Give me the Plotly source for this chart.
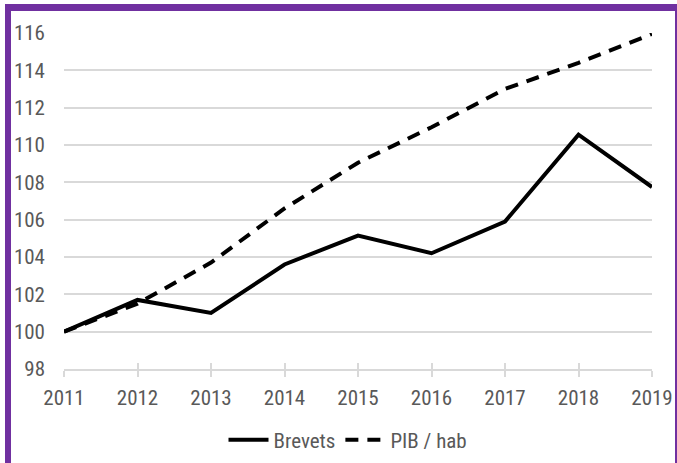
import plotly.graph_objects as go

years = [2011, 2012, 2013, 2014, 2015, 2016, 2017, 2018, 2019]
brevets = [100.0, 101.7, 101.0, 103.6, 105.15, 104.2, 105.9, 110.55, 107.75]
pib_hab = [100.0, 101.5, 103.7, 106.6, 109.05, 110.95, 113.0, 114.4, 115.95]
y_ticks = [98, 100, 102, 104, 106, 108, 110, 112, 114, 116]

W, H = 677, 463
L, R, T, B = 64, 25, 33, 94
pw, ph = W - L - R, H - T - B

FONT = "Roboto Condensed, Liberation Sans Narrow, sans-serif"
GREY = "#595959"
FS = 21

fig = go.Figure()
fig.add_trace(go.Scatter(x=years, y=brevets, name="Brevets", mode="lines",
                         line=dict(color="black", width=4)))
fig.add_trace(go.Scatter(x=years, y=pib_hab, name="PIB / hab", mode="lines",
                         line=dict(color="black", width=4, dash="13px,9px")))


def px_x(p):
    return (p - L) / pw


def px_y(p):
    return (H - B - p) / ph


purple = "#7030a0"
shapes = [
    dict(type="rect", xref="paper", yref="paper", x0=px_x(5), x1=px_x(677), y0=px_y(11), y1=px_y(4),
         fillcolor=purple, line=dict(width=0), layer="above"),
    dict(type="rect", xref="paper", yref="paper", x0=px_x(5), x1=px_x(11), y0=px_y(463), y1=px_y(4),
         fillcolor=purple, line=dict(width=0), layer="above"),
    dict(type="rect", xref="paper", yref="paper", x0=px_x(675), x1=px_x(677), y0=px_y(463), y1=px_y(4),
         fillcolor=purple, line=dict(width=0), layer="above"),
]

fig.update_layout(
    width=W, height=H, autosize=False,
    margin=dict(l=L, r=R, t=T, b=B, autoexpand=False),
    paper_bgcolor="white", plot_bgcolor="white",
    font=dict(family=FONT, size=FS, color=GREY),
    showlegend=True,
    legend=dict(orientation="h", xref="container", yref="container",
                x=348 / W, xanchor="center", y=1 - 440 / H, yanchor="middle",
                font=dict(family=FONT, size=FS, color=GREY), itemwidth=40,
                bgcolor="rgba(0,0,0,0)"),
    xaxis=dict(range=[2011, 2019], tickmode="array", tickvals=years,
               ticktext=[str(y) for y in years], showgrid=False, zeroline=False,
               showline=True, linecolor="#d9d9d9", linewidth=1.5, automargin=False,
               ticks="outside", ticklen=6, tickcolor="#d9d9d9", tickwidth=1.5,
               ticklabelstandoff=3,
               tickfont=dict(family=FONT, size=FS, color=GREY)),
    xaxis2=dict(range=[2011, 2019], overlaying="x", tickmode="array", tickvals=years,
                showticklabels=False, showgrid=False, zeroline=False, showline=False,
                ticks="inside", ticklen=6, tickcolor="#d9d9d9", tickwidth=1.5,
                side="bottom", anchor="y", automargin=False),
    yaxis=dict(range=[98, 116], tickmode="array", tickvals=y_ticks,
               showgrid=True, gridcolor="#d9d9d9", gridwidth=1.5, zeroline=False,
               showline=False, ticks="", ticklabelstandoff=18, automargin=False,
               tickfont=dict(family=FONT, size=FS, color=GREY)),
    shapes=shapes,
)
fig.add_trace(go.Scatter(x=[2011], y=[98], xaxis="x2", mode="markers",
                         marker=dict(opacity=0), showlegend=False, hoverinfo="skip"))

fig.write_html("out.html", config={"displayModeBar": False},
               post_script="document.body.style.margin='0';")
